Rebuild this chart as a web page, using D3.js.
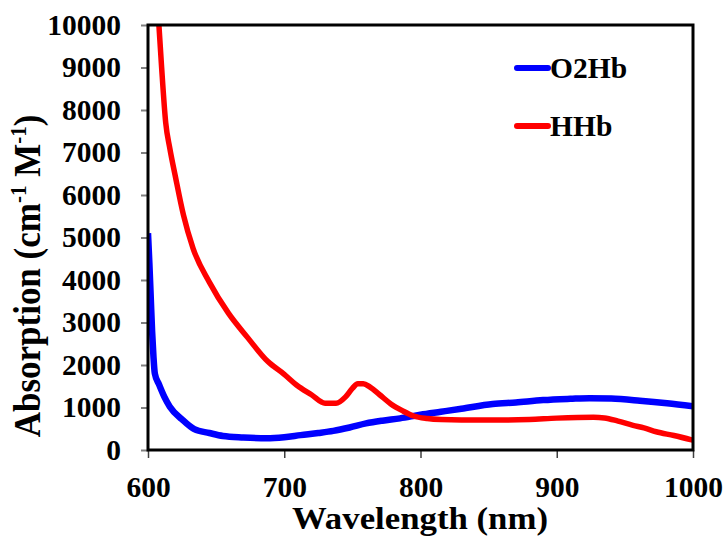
<!DOCTYPE html>
<html>
<head>
<meta charset="utf-8">
<script src="https://cdn.jsdelivr.net/npm/d3@7/dist/d3.min.js"></script>
<style>
  html, body { margin: 0; padding: 0; background: #fff; }
  svg { display: block; font-family: "Liberation Serif", "Times New Roman", serif; font-weight: bold; }
</style>
</head>
<body>
<svg id="chart" width="725" height="539"></svg>
<script>
// Molar absorption spectra of oxy- and deoxy-haemoglobin, 600–1000 nm
const o2hbWavelength = [600, 601, 602, 603, 604, 605, 608, 612, 616, 625, 634, 645, 655, 670, 687, 700, 712, 725, 736, 748, 760, 772, 785, 800, 815, 830, 853, 870, 890, 910, 924, 940, 961, 981, 1000];
const o2hbValues     = [5100, 4400, 3600, 2800, 2200, 1800, 1550, 1250, 1020, 720, 490, 400, 330, 295, 275, 300, 350, 400, 450, 530, 625, 690, 745, 830, 900, 970, 1080, 1120, 1175, 1205, 1220, 1210, 1160, 1100, 1030];

const hhbWavelength = [608, 610, 613, 616, 620, 626, 633, 645, 659, 673, 688, 700, 709, 720, 730, 738, 745, 750, 754, 758, 763, 770, 778, 787, 795, 805, 815, 830, 858, 880, 900, 927, 935, 945, 956, 964, 973, 986, 1000];
const hhbValues     = [10000, 9000, 7700, 7100, 6450, 5530, 4750, 3950, 3220, 2650, 2080, 1780, 1530, 1300, 1100, 1100, 1250, 1450, 1560, 1560, 1480, 1300, 1090, 920, 800, 740, 715, 705, 705, 720, 750, 770, 755, 680, 580, 520, 430, 340, 230];

const xTicks = [600, 700, 800, 900, 1000];
const yTicks = [0, 1000, 2000, 3000, 4000, 5000, 6000, 7000, 8000, 9000, 10000];

const seriesNames  = ["O2Hb", "HHb"];
const seriesColors = ["#0000ff", "#ff0000"];

const svg = d3.select("#chart");
const plot = { left: 148, top: 25, right: 693, bottom: 450 };
const fontFamily = "Liberation Serif, Times New Roman, serif";

const x = d3.scaleLinear().domain([600, 1000]).range([plot.left, plot.right]);
const y = d3.scaleLinear().domain([0, 10000]).range([plot.bottom, plot.top]);

// clip region for the curves
svg.append("defs").append("clipPath").attr("id", "plotClip")
  .append("rect")
  .attr("x", plot.left).attr("y", plot.top)
  .attr("width", plot.right - plot.left).attr("height", plot.bottom - plot.top);

// y axis ticks and labels
const yAxis = d3.axisLeft(y).tickValues(yTicks).tickSize(7).tickPadding(20).tickFormat(d3.format("d"));
const gy = svg.append("g").attr("transform", `translate(${plot.left},0)`).call(yAxis);
gy.select(".domain").remove();
gy.selectAll(".tick line").attr("stroke", "#808080").attr("stroke-width", 2);
gy.selectAll(".tick text")
  .attr("font-size", 29.5).attr("font-weight", "bold").attr("fill", "#000")
  .attr("font-family", fontFamily);

// x axis ticks and labels
const xAxis = d3.axisBottom(x).tickValues(xTicks).tickSize(8).tickPadding(18).tickFormat(d3.format("d"));
const gx = svg.append("g").attr("transform", `translate(0,${plot.bottom})`).call(xAxis);
gx.select(".domain").remove();
gx.selectAll(".tick line").attr("stroke", "#404040").attr("stroke-width", 1.5);
gx.selectAll(".tick text")
  .attr("font-size", 29.5).attr("font-weight", "bold").attr("fill", "#000")
  .attr("font-family", fontFamily);

// curves
const line = d3.line().x(d => x(d[0])).y(d => y(d[1])).curve(d3.curveMonotoneX);
const series = [
  d3.zip(o2hbWavelength, o2hbValues),
  d3.zip(hhbWavelength, hhbValues)
];
const curves = svg.append("g").attr("clip-path", "url(#plotClip)");
series.forEach((pts, i) => {
  curves.append("path")
    .datum(pts)
    .attr("d", line)
    .attr("fill", "none")
    .attr("stroke", seriesColors[i])
    .attr("stroke-width", i === 0 ? 6.5 : 5.5)
    .attr("stroke-linejoin", "round")
    .attr("stroke-linecap", "butt");
});

// frame
svg.append("rect")
  .attr("x", plot.left).attr("y", plot.top)
  .attr("width", plot.right - plot.left).attr("height", plot.bottom - plot.top)
  .attr("fill", "none").attr("stroke", "#000").attr("stroke-width", 3);

// legend
const legend = svg.append("g").attr("transform", "translate(517,0)");
seriesNames.forEach((name, i) => {
  const ly = 68 + i * 58;
  legend.append("line")
    .attr("x1", 0).attr("x2", 31).attr("y1", ly).attr("y2", ly)
    .attr("stroke", seriesColors[i]).attr("stroke-width", 6).attr("stroke-linecap", "round");
  legend.append("text")
    .attr("x", 33).attr("y", ly + 10)
    .attr("font-size", 29.5).attr("font-weight", "bold").attr("fill", "#000")
    .text(name);
});

// axis titles
svg.append("text")
  .attr("x", 420).attr("y", 529)
  .attr("text-anchor", "middle").attr("font-size", 32).attr("font-weight", "bold")
  .attr("textLength", 256).attr("lengthAdjust", "spacingAndGlyphs")
  .text("Wavelength (nm)");

const yTitle = svg.append("text")
  .attr("transform", "translate(40,276) scale(1.07,1) rotate(-90)")
  .attr("text-anchor", "middle").attr("font-size", 35).attr("font-weight", "bold");
yTitle.append("tspan").text("Absorption (cm");
yTitle.append("tspan").attr("font-size", 21).attr("dy", -13).text("-1");
yTitle.append("tspan").attr("dy", 13).text(" M");
yTitle.append("tspan").attr("font-size", 21).attr("dy", -13).text("-1");
yTitle.append("tspan").attr("dy", 13).text(")");
</script>
</body>
</html>
